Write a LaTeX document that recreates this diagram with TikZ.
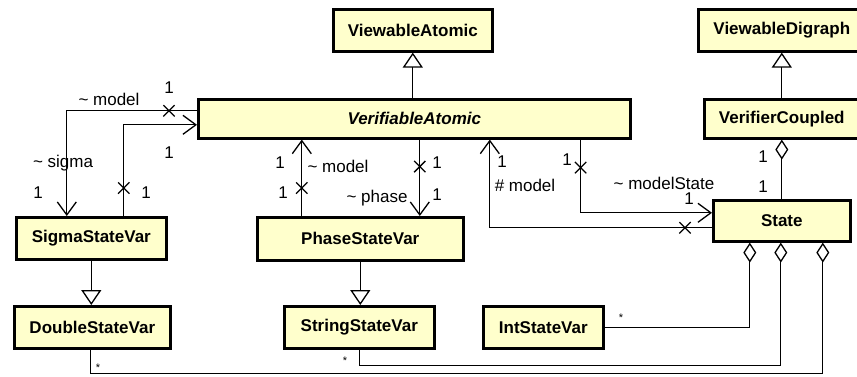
\documentclass[tikz,border=0pt]{standalone}
\usepackage{fontspec}
\setmainfont{Liberation Sans}
\usetikzlibrary{arrows.meta,shapes.misc}
\definecolor{classfill}{RGB}{255,255,204}

\begin{document}
\begin{tikzpicture}[x=1pt,y=1pt,font=\fontsize{17}{20}\selectfont]
    \tikzstyle{cls} = [rectangle, draw=black, line width=2.6pt, fill=classfill,
        font=\fontsize{17}{20}\selectfont\bfseries, inner sep=2pt]
    \tikzstyle{inherit} = [-{Triangle[open,length=15pt,width=20pt]}, line width=1.3pt]
    \tikzstyle{aggr} = [{Diamond[open,length=20pt,width=13pt]}-, line width=1.3pt]
    \tikzstyle{nav} = [-{Straight Barb[length=13pt,width=19pt]}, line width=1.3pt]
    \tikzstyle{xmark} = [cross out, draw=black, line width=1.3pt,
        minimum size=10pt, inner sep=0pt]
    \tikzstyle{star} = [font=\fontsize{11}{13}\selectfont]

    \fill[white] (0,0) rectangle (857,-376);
    \useasboundingbox (0,0) rectangle (857,-376);
    \clip (0,0) rectangle (857,-376);

    \node(viewAt) [cls, minimum width=159pt, minimum height=42pt]
        at (332,-8) [anchor=north west] {ViewableAtomic};

    \node(viewDg) [cls, minimum width=167pt, minimum height=42pt]
        at (697,-8) [anchor=north west] {ViewableDigraph};

    \node(verAt) [cls, minimum width=432pt, minimum height=39pt]
        at (197,-98) [anchor=north west] {\textit{VerifiableAtomic}};

    \node(verCp) [cls, minimum width=155pt, minimum height=39pt]
        at (703,-98) [anchor=north west] {VerifierCoupled};

    \node(state) [cls, minimum width=137pt, minimum height=41pt]
        at (712,-199) [anchor=north west] {State};

    \node(sigmaSV) [cls, minimum width=150pt, minimum height=42pt]
        at (15,-216) [anchor=north west] {SigmaStateVar};

    \node(phaseSV) [cls, minimum width=206pt, minimum height=43pt]
        at (256,-216) [anchor=north west] {PhaseStateVar};

    \node(doubleSV) [cls, minimum width=156pt, minimum height=42pt]
        at (13,-305) [anchor=north west] {DoubleStateVar};

    \node(stringSV) [cls, minimum width=150pt, minimum height=42pt]
        at (283,-305) [anchor=north west] {StringStateVar};

    \node(intSV) [cls, minimum width=120pt, minimum height=42pt]
        at (482,-305) [anchor=north west] {IntStateVar};

    % generalisations
    \draw[inherit] (viewAt.south |- verAt.north) -- (viewAt.south);
    \draw[inherit] (verCp.north) -- (viewDg.south);
    \draw[inherit] (sigmaSV.south) -- (sigmaSV.south |- doubleSV.north);
    \draw[inherit] (phaseSV.south) -- (phaseSV.south |- stringSV.north);

    % aggregations
    \draw[aggr] (verCp.south) -- (state.north);
    \draw[aggr] ([xshift=-32pt]state.south) |- (intSV.east);
    \draw[aggr] ([xshift=-1pt]state.south) -- ++(0,-123) -| (stringSV.south);
    \draw[aggr] ([xshift=41pt]state.south) -- ++(0,-131)
        -| ([xshift=-2pt]doubleSV.south);

    % associations
    \draw[nav] ([yshift=8pt]verAt.west) -- ++(-28,0) node[xmark](x1){}
        -| ([xshift=-24.5pt]sigmaSV.north);
    \draw[nav] ([xshift=32.5pt]sigmaSV.north) -- ++(0,28) node[xmark](x2){}
        |- ([yshift=-6pt]verAt.west);
    \draw[nav] ([xshift=-58.5pt]phaseSV.north) -- ++(0,28) node[xmark](x3){}
        -- (x3 |- verAt.south);
    \coordinate (phaseIn) at ([xshift=59.5pt]phaseSV.north);
    \draw[nav] (phaseIn |- verAt.south) -- ++(0,-27) node[xmark](x4){}
        -- (phaseIn);
    \draw[nav] ([yshift=-7pt]state.west) -- ++(-27,0) node[xmark](x5){}
        -| ([xshift=75.5pt]verAt.south);
    \draw[nav] ([xshift=-51pt]verAt.south east) -- ++(0,-28) node[xmark](x6){}
        |- ([yshift=8pt]state.west);

    % role names and multiplicities
    \node(mA) at (169,-88) {1};
    \node(rModelA) at (109,-99) {\textasciitilde{} model};
    \node(rSigma) at (63,-163) {\textasciitilde{} sigma};
    \node(mB) at (38,-193) {1};
    \node(mC) at (146,-193) {1};
    \node(mD) at (169,-153) {1};
    \node(mE) at (280,-163) {1};
    \node(rModelB) at (338,-166) {\textasciitilde{} model};
    \node(mF) at (283,-193) {1};
    \node(mG) at (437,-163) {1};
    \node(rPhase) at (377,-198) {\textasciitilde{} phase};
    \node(mH) at (437,-195) {1};
    \node(mI) at (502,-162) {1};
    \node(rModelC) at (525,-185) {\# model};
    \node(mJ) at (567,-160) {1};
    \node(rModelState) at (664,-183) {\textasciitilde{} modelState};
    \node(mK) at (689,-199) {1};
    \node(mL) at (763,-157) {1};
    \node(mM) at (763,-187) {1};
    \node(sA) [star] at (621,-318) {*};
    \node(sB) [star] at (345,-361) {*};
    \node(sC) [star] at (98,-368) {*};
\end{tikzpicture}
\end{document}
